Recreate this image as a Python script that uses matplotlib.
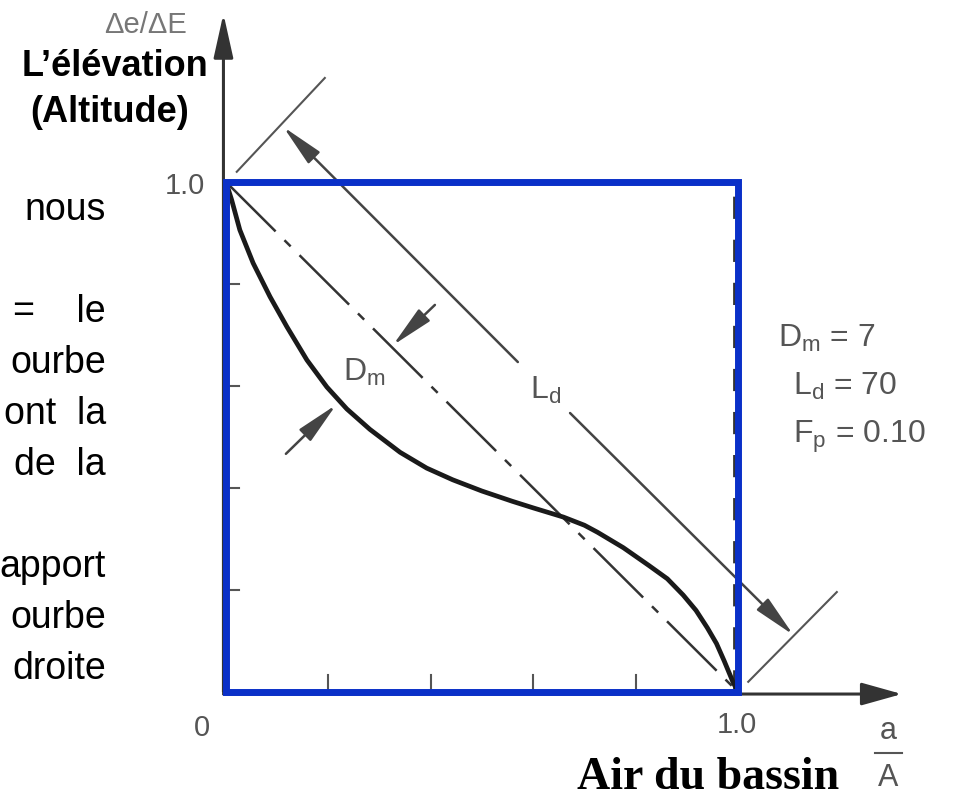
import matplotlib.pyplot as plt
from matplotlib.patches import Rectangle

# hypsometric curve (a/A, delta e / delta E)
curve_x = [0, 0.011, 0.027, 0.053, 0.086, 0.119, 0.158, 0.197, 0.236, 0.281, 0.340,
           0.392, 0.443, 0.50, 0.559, 0.60, 0.659, 0.70, 0.726, 0.776, 0.826, 0.862,
           0.893, 0.918, 0.940, 0.958, 0.973, 0.99, 1.0]
curve_y = [1.0, 0.965, 0.906, 0.841, 0.775, 0.716, 0.651, 0.598, 0.555, 0.515, 0.470,
           0.439, 0.416, 0.394, 0.374, 0.361, 0.343, 0.327, 0.313, 0.283, 0.248, 0.222,
           0.190, 0.160, 0.126, 0.095, 0.061, 0.02, 0.0]

tick_pos = [0.2, 0.4, 0.6, 0.8]
param_names = [r"$\mathregular{D_m}$", r"$\mathregular{L_d}$", r"$\mathregular{F_p}$"]
param_values = ["7", "70", "0.10"]

left_lines = ["nous", "", "=    le", "ourbe", "ont  la", "de  la", "", "apport", "ourbe", "droite"]

W, H = 967, 799
plt.rcParams["font.family"] = ["Liberation Sans", "DejaVu Sans"]
plt.rcParams["mathtext.fontset"] = "custom"
plt.rcParams["mathtext.rm"] = "Liberation Sans"

fig = plt.figure(figsize=(W / 100, H / 100), dpi=100)
ax = fig.add_axes([226 / W, (H - 692) / H, 512 / W, 510 / H])
ax.set_xlim(0, 1)
ax.set_ylim(0, 1)
ax.axis("off")

def fig_text(px, py, s, **kw):
    fig.text(px / W, 1 - py / H, s, **kw)

def arrow(tail, tip, color="#444", lw=1.8, hl=1.3, hw=0.25):
    ax.annotate("", xy=tip, xytext=tail, annotation_clip=False,
                arrowprops=dict(arrowstyle=f"-|>,head_length={hl},head_width={hw}",
                                mutation_scale=20, lw=lw, color=color,
                                shrinkA=0, shrinkB=0))

# axes with arrows
arrow((-0.005, 0), (-0.005, 1.33), color="#333", lw=2.2, hl=1.35, hw=0.3)
arrow((-0.005, -0.004), (1.32, -0.004), color="#333", lw=2.2, hl=1.25, hw=0.35)

# ticks (inside)
for t in tick_pos:
    ax.plot([0, 0.026], [t, t], color="#555", lw=1.5, clip_on=False)
    ax.plot([t, t], [0, 0.034], color="#555", lw=1.5, clip_on=False)

# old dashed frame edge of the scanned figure
ax.plot([0.993, 0.993], [0, 1], color="#333", lw=2, dashes=(8, 7.5), clip_on=False)
ax.plot([0, 1], [0.998, 0.998], color="#bbb", lw=1.5, dashes=(8, 7.5), clip_on=False)

# straight diagonal (dash-dot)
ax.plot([0, 1], [1, 0], color="#333", lw=1.8, dashes=(28, 5, 3.5, 5), clip_on=False)

# hypsometric curve
ax.plot(curve_x, curve_y, color="#1a1a1a", lw=3.4, solid_capstyle="round",
        solid_joinstyle="round", clip_on=False)

# L_d dimension line with extension lines
ax.plot([0.021, 0.193], [1.02, 1.204], color="#555", lw=1.5, clip_on=False)
ax.plot([1.02, 1.193], [0.02, 0.196], color="#555", lw=1.5, clip_on=False)
arrow((0.570, 0.647), (0.112, 1.108))
arrow((0.672, 0.547), (1.108, 0.112))
ax.text(0.625, 0.592, r"$\mathregular{L_d}$", color="#555", fontsize=23,
        ha="center", va="center")

# D_m arrows
arrow((0.408, 0.759), (0.326, 0.680))
arrow((0.117, 0.467), (0.215, 0.563))
ax.text(0.271, 0.627, r"$\mathregular{D_m}$", color="#555", fontsize=23,
        ha="center", va="center")

# parameter block
for i, (n, v) in enumerate(zip(param_names, param_values)):
    x0 = 1.078 if i == 0 else 1.108
    ax.text(x0, 0.676 - i * 0.094, f"{n} = {v}", color="#555", fontsize=23,
            ha="left", va="baseline", clip_on=False)

# blue overlay square
ax.add_patch(Rectangle((0, 0), 1, 1, fill=False, ec="#0a30c8", lw=5, zorder=6,
                       clip_on=False))

# tick labels
ax.text(-0.08, 0.992, "1.0", color="#555", fontsize=21, ha="center", va="center")
ax.text(-0.047, -0.071, "0", color="#555", fontsize=21, ha="center", va="center")
ax.text(0.998, -0.065, "1.0", color="#555", fontsize=21, ha="center", va="center")
ax.text(-0.158, 1.308, "Δe/ΔE", color="#777", fontsize=21, ha="center", va="center")

# a/A fraction
ax.text(1.294, -0.076, "a", color="#555", fontsize=22, ha="center", va="center")
ax.plot([1.268, 1.320], [-0.12, -0.12], color="#555", lw=1.5, clip_on=False)
ax.text(1.294, -0.169, "A", color="#555", fontsize=22, ha="center", va="center")

# overlay labels
fig_text(708, 789, "Air du bassin", family="Liberation Serif", weight="bold",
         fontsize=33, ha="center", va="baseline")
fig_text(115, 76, "L’élévation", weight="bold", fontsize=26, ha="center", va="baseline")
fig_text(110, 122, "(Altitude)", weight="bold", fontsize=26, ha="center", va="baseline")

for i, s in enumerate(left_lines):
    if s:
        fig_text(106, 220 + i * 51, s, fontsize=27, ha="right", va="baseline")

fig.savefig("out.png", dpi=100, facecolor="white")
